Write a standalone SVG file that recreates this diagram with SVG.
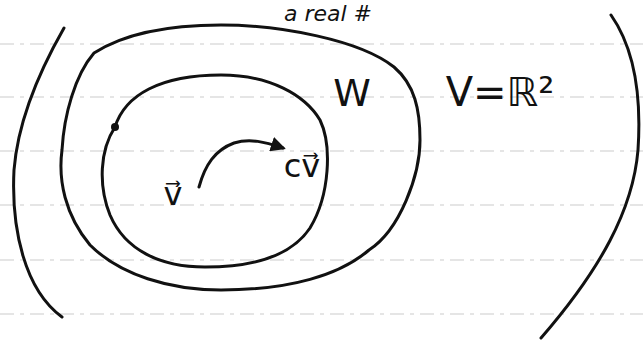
<svg xmlns="http://www.w3.org/2000/svg" width="643" height="341" viewBox="0 0 643 341">
<style>
.ink{fill:none;stroke:#111;stroke-width:3;stroke-linecap:round;stroke-linejoin:round}
.rule{fill:none;stroke:#dddddd;stroke-width:1.5;stroke-dasharray:14 6 4 6}
.t{font-family:"DejaVu Sans","Liberation Sans",sans-serif;fill:#111}
</style>
<defs>
<marker id="ah" viewBox="0 0 10 10" refX="8" refY="5" markerWidth="5" markerHeight="5" orient="auto"><path d="M0,0 L10,5 L0,10 z" fill="#111"/></marker>
</defs>
<rect width="643" height="341" fill="#fff"/>
<g id="rules">
<line class="rule" x1="0" y1="44" x2="643" y2="44"/>
<line class="rule" x1="0" y1="97" x2="643" y2="97"/>
<line class="rule" x1="0" y1="151" x2="643" y2="151"/>
<line class="rule" x1="0" y1="205" x2="643" y2="205"/>
<line class="rule" x1="0" y1="260" x2="643" y2="260"/>
<line class="rule" x1="0" y1="314" x2="643" y2="314"/>
</g>
<g id="space-V">
<path class="ink" d="M64,28 C40,70 18,120 14,170 C11,230 25,290 62,317"/>
<path class="ink" d="M611,15 C632,45 642,90 638,150 C633,210 600,270 541,338"/>
</g>
<g id="outer-set">
<path class="ink" d="M94,53 C130,30 180,25 221,25 C280,25 360,40 394,67 C415,85 420,110 420,140 C420,175 400,230 369,250 C340,275 290,290 221,290 C170,290 120,275 90,245 C65,215 58,180 62,150 C64,115 75,75 94,53"/>
</g>
<g id="subspace-W">
<path class="ink" d="M115,127 C125,95 160,75 221,75 C270,75 305,95 320,120 C332,145 330,195 310,228 C290,258 250,267 205,267 C160,267 125,250 110,215 C98,185 100,150 115,127"/>
<circle cx="115" cy="127" r="4" fill="#111"/>
</g>
<g id="connectors">
<path class="ink" d="M199,187 C205,165 215,150 234,143 C250,138 265,142 283,148" marker-end="url(#ah)"/>
</g>
<g id="labels">
<text class="t" x="328" y="21" font-size="22" text-anchor="middle" font-style="italic">a real #</text>
<text class="t" x="352" y="106" font-size="38" text-anchor="middle">W</text>
<text class="t" x="500" y="106" font-size="40" text-anchor="middle">V=ℝ²</text>
<text class="t" x="173" y="205" font-size="32" text-anchor="middle">v⃗</text>
<text class="t" x="302" y="177" font-size="32" text-anchor="middle">cv⃗</text>
</g>
</svg>
